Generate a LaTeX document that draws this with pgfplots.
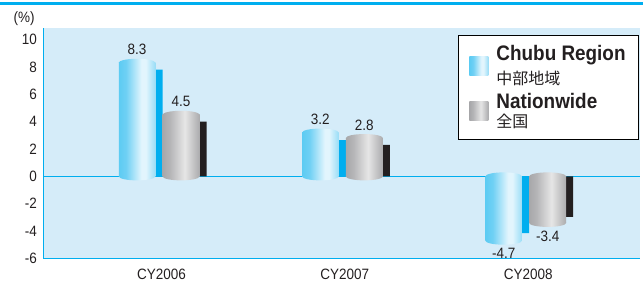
\documentclass[border=0pt]{standalone}
\usepackage{fontspec}
\setmainfont{Liberation Sans}[FakeStretch=0.9]
\newfontfamily\jp{Noto Sans CJK JP}
\usepackage{pgfplots}
\pgfplotsset{compat=1.18}
\usetikzlibrary{calc}

\definecolor{panelbg}{HTML}{D5ECF9}
\definecolor{cyanL}{HTML}{00AEEF}
\definecolor{txt}{HTML}{231F20}
\definecolor{cA}{HTML}{2EC0F0}
\definecolor{cB}{HTML}{6FD0F4}
\definecolor{cC}{HTML}{E2F5FD}
\definecolor{cB2}{HTML}{7DD4F4}
\definecolor{cD}{HTML}{3EC4F0}
\definecolor{nA}{HTML}{858689}
\definecolor{nB}{HTML}{B5B5B7}
\definecolor{nC}{HTML}{E6E6E6}
\definecolor{nD}{HTML}{ABABAD}
\definecolor{nE}{HTML}{8B8B8D}

\pgfdeclarehorizontalshading{chubuS}{100bp}{color(0bp)=(cA); color(35bp)=(cB); color(56bp)=(cC); color(62bp)=(cC); color(80bp)=(cB2); color(100bp)=(cD)}
\pgfdeclarehorizontalshading{nationS}{100bp}{color(0bp)=(nA); color(35bp)=(nB); color(55bp)=(nC); color(75bp)=(nD); color(100bp)=(nE)}

\pgfdeclareplotmark{capC}{\pgfpathellipse{\pgfqpoint{-24.5bp}{0pt}}{\pgfqpoint{18.25bp}{0pt}}{\pgfqpoint{0pt}{4bp}}\pgfshadepath{chubuS}{0}\pgfusepath{discard}}
\pgfdeclareplotmark{capN}{\pgfpathellipse{\pgfqpoint{19.5bp}{0pt}}{\pgfqpoint{18.5bp}{0pt}}{\pgfqpoint{0pt}{4bp}}\pgfshadepath{nationS}{0}\pgfusepath{discard}}

\pgfplotsset{
  chubu/.style={ybar, bar width=36.5bp, bar shift=-24.5bp, draw=none, shading=chubuS,
    nodes near coords, nodes near coords align=vertical,
    every node near coord/.append style={xshift=-24.5bp}},
  nation/.style={ybar, bar width=37bp, bar shift=19.5bp, draw=none, shading=nationS,
    nodes near coords, nodes near coords align=vertical,
    every node near coord/.append style={xshift=19.5bp}},
}

\begin{document}
\begin{tikzpicture}
\begin{axis}[
  scale only axis,
  width=596.7bp, height=230.5bp,
  xmin=-0.645, xmax=2.61,
  ymin=-6, ymax=10.84,
  clip=false,
  axis background/.style={fill=panelbg},
  axis x line*=bottom, axis y line*=left,
  axis line style={-, draw=cyanL, line width=1.2bp},
  major tick length=0pt,
  tick style={draw=none},
  xtick={0,1,2},
  xticklabels={CY2006,CY2007,CY2008},
  ytick={-6,-4,-2,0,2,4,6,8,10},
  extra y ticks={0}, extra y tick labels={},
  extra y tick style={grid=major, major grid style={draw=cyanL, line width=1bp}},
  /pgf/number format/assume math mode=true,
  tick label style={font=\fontsize{15bp}{18bp}\selectfont, text=txt},
  xticklabel style={yshift=-7bp},
  yticklabel style={xshift=-3bp},
  every node near coord/.append style={font=\fontsize{15bp}{18bp}\selectfont, text=txt, inner ysep=7.5bp},
  legend cell align=left,
  legend style={at={(rel axis cs:0.9983,0.9696)}, anchor=north east, draw=black, line width=0.8bp, fill=white,
    inner xsep=11bp, inner ysep=8bp, row sep=3bp, column sep=6bp, text=txt,
    nodes={align=left, inner sep=2bp}},
]
% side strips
\addplot[ybar, bar width=7bp, bar shift=-2.5bp, draw=none, fill=cyanL, forget plot] coordinates {(0,7.8) (1,2.65) (2,-4.15)};
\addplot[ybar, bar width=7bp, bar shift=41.5bp, draw=none, fill=txt, forget plot] coordinates {(0,4.0) (1,2.3) (2,-2.95)};
% cylinders (one plot per bar so that each bar carries its own shading)
\addplot[chubu, legend image code/.code={\shade[shading=chubuS] (2bp,-9.5bp) rectangle (21bp,9.5bp);}]
  coordinates {(0,8.3)};
\addlegendentry{{\fontsize{21bp}{21bp}\selectfont\bfseries Chubu Region}\\[5bp]{\jp\fontsize{16bp}{17bp}\selectfont 中部地域}}
\addplot[chubu, forget plot] coordinates {(1,3.2)};
\addplot[chubu, forget plot] coordinates {(2,-4.7)};
\addplot[nation, legend image code/.code={\shade[shading=nationS] (2bp,-9.5bp) rectangle (21bp,9.5bp);}]
  coordinates {(0,4.5)};
\addlegendentry{{\fontsize{21bp}{21bp}\selectfont\bfseries Nationwide}\\[5bp]{\jp\fontsize{16bp}{17bp}\selectfont 全国}}
\addplot[nation, forget plot] coordinates {(1,2.8)};
\addplot[nation, forget plot] coordinates {(2,-3.4)};
% cylinder end caps
\addplot[only marks, mark=capC, forget plot] coordinates {(0,0) (1,0) (2,-4.7) (0,8.3) (1,3.2) (2,0)};
\addplot[only marks, mark=capN, forget plot] coordinates {(0,0) (1,0) (2,-3.4) (0,4.5) (1,2.8) (2,0)};
\coordinate (O) at (rel axis cs:0,0);
\node[font=\fontsize{15bp}{18bp}\selectfont, text=txt] at (rel axis cs:-0.0323,1.039) {(\%)};
\draw[cyanL, line width=2.2bp] (rel axis cs:-0.0726,1.106) -- (rel axis cs:1.0051,1.106);
\end{axis}
\pgfresetboundingbox
\path ($(O)+(-43.3bp,-28.5bp)$) rectangle ++(643bp,287bp);
\end{tikzpicture}
\end{document}
